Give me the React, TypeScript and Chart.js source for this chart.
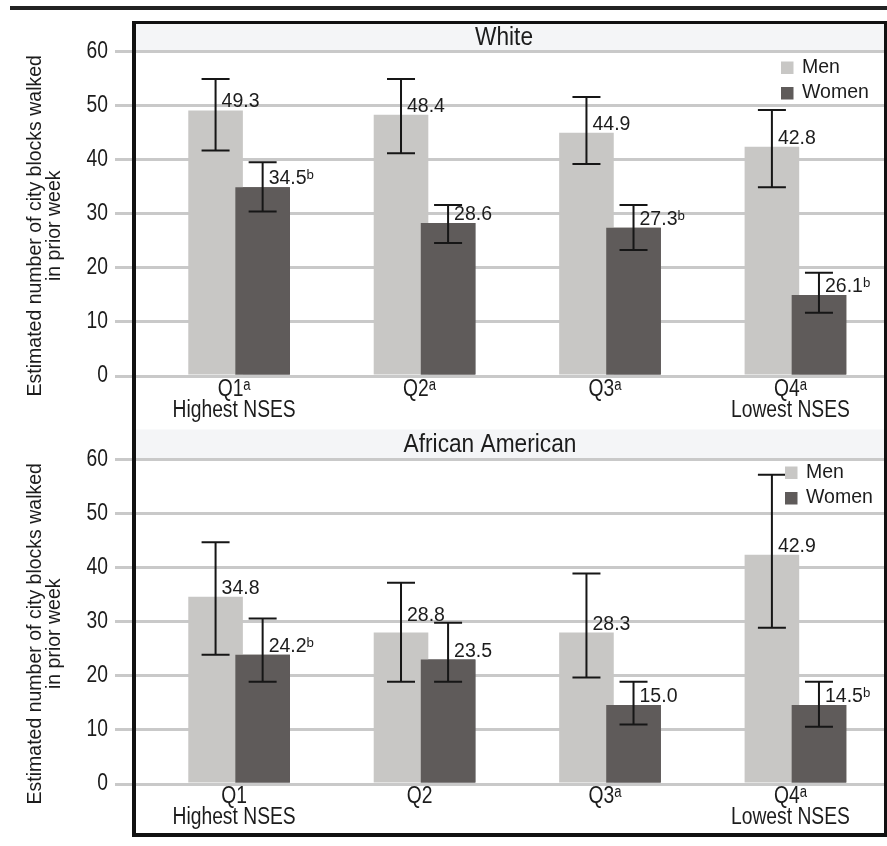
import React, { useEffect, useRef } from 'react';
import { Chart, registerables } from 'chart.js';

Chart.register(...registerables);

// ---------- data ----------
const seriesNames = ['Men', 'Women'];
const yTickValues = [0, 10, 20, 30, 40, 50, 60];

const whiteTitle = 'White';
const whiteCategories = [['Q1ᵃ', 'Highest NSES'], ['Q2ᵃ'], ['Q3ᵃ'], ['Q4ᵃ', 'Lowest NSES']];
const whiteMen = [49.1, 48.3, 45.0, 42.4];
const whiteMenLow = [41.7, 41.2, 39.2, 34.9];
const whiteMenHigh = [54.9, 54.9, 51.6, 49.2];
const whiteMenLabels = ['49.3', '48.4', '44.9', '42.8'];
const whiteWomen = [34.9, 28.3, 27.4, 15.0];
const whiteWomenLow = [30.4, 24.6, 23.3, 11.7];
const whiteWomenHigh = [39.5, 31.6, 31.6, 19.1];
const whiteWomenLabels = ['34.5ᵇ', '28.6', '27.3ᵇ', '26.1ᵇ'];

const aaTitle = 'African American';
const aaCategories = [['Q1', 'Highest NSES'], ['Q2'], ['Q3ᵃ'], ['Q4ᵃ', 'Lowest NSES']];
const aaMen = [34.6, 28.0, 28.0, 42.4];
const aaMenLow = [23.9, 18.9, 19.7, 28.9];
const aaMenHigh = [44.7, 37.2, 38.9, 57.2];
const aaMenLabels = ['34.8', '28.8', '28.3', '42.9'];
const aaWomen = [23.9, 23.0, 14.6, 14.6];
const aaWomenLow = [18.9, 18.9, 11.0, 10.6];
const aaWomenHigh = [30.6, 29.8, 18.9, 18.9];
const aaWomenLabels = ['24.2ᵇ', '23.5', '15.0', '14.5ᵇ'];

const yTitleLines = ['Estimated number of city blocks walked', 'in prior week'];

// ---------- styles ----------
const FAMILY = '"Liberation Sans", Arial, Helvetica, sans-serif';
const TEXT = '#1c1c1c';
const MEN_COLOR = '#c8c7c5';
const WOMEN_COLOR = '#5f5b5a';
const GRID = '#c9c9c9';
const BAND = '#f4f5f7';

type Panel = {
  title: string;
  categories: string[][];
  men: number[]; menLow: number[]; menHigh: number[]; menLabels: string[];
  women: number[]; womenLow: number[]; womenHigh: number[]; womenLabels: string[];
  titleX: number; titleDy: number; legendX: number; legendDy: number;
  padTop: number; padBottom: number; tickDy: number; menLabelLift: number[];
};

const panels: Panel[] = [
  {
    title: whiteTitle, categories: whiteCategories,
    men: whiteMen, menLow: whiteMenLow, menHigh: whiteMenHigh, menLabels: whiteMenLabels,
    women: whiteWomen, womenLow: whiteWomenLow, womenHigh: whiteWomenHigh, womenLabels: whiteWomenLabels,
    titleX: 504, titleDy: -14, legendX: 781, legendDy: 10, padTop: 51.5, padBottom: 5, tickDy: 13.5,
    menLabelLift: [0, 0, 0, 0],
  },
  {
    title: aaTitle, categories: aaCategories,
    men: aaMen, menLow: aaMenLow, menHigh: aaMenHigh, menLabels: aaMenLabels,
    women: aaWomen, womenLow: aaWomenLow, womenHigh: aaWomenHigh, womenLabels: aaWomenLabels,
    titleX: 490, titleDy: -15, legendX: 785, legendDy: 7, padTop: 34.5, padBottom: 18, tickDy: 12.5,
    menLabelLift: [0, 9, 0, 0],
  },
];

const font = (size: number) => `${size}px ${FAMILY}`;

function txt(
  ctx: CanvasRenderingContext2D, s: string, x: number, y: number, size: number, sx: number,
  align: CanvasTextAlign, baseline: CanvasTextBaseline, rot = 0,
) {
  ctx.save();
  ctx.translate(x, y);
  if (rot) ctx.rotate(rot);
  ctx.scale(sx, 1);
  ctx.font = font(size);
  ctx.textAlign = align;
  ctx.textBaseline = baseline;
  ctx.fillStyle = TEXT;
  ctx.fillText(s, 0, 0);
  ctx.restore();
}

function makePlugin(p: Panel) {
  return {
    id: 'panelDecor',
    beforeDraw(chart: any) {
      const { ctx, chartArea: ca } = chart;
      ctx.save();
      ctx.fillStyle = BAND;
      ctx.fillRect(ca.left, ca.top - 30, ca.right - ca.left, 30);
      ctx.restore();
    },
    afterDatasetsDraw(chart: any) {
      const { ctx, chartArea: ca } = chart;
      const y = chart.scales.y;
      const x = chart.scales.x;
      ctx.save();
      // women bars over men bars
      chart.getDatasetMeta(1).data.forEach((el: any) => el.draw(ctx));
      // error bars
      const sets = [
        { low: p.menLow, high: p.menHigh, labels: p.menLabels, lift: p.menLabelLift },
        { low: p.womenLow, high: p.womenHigh, labels: p.womenLabels, lift: [0, 0, 0, 0] },
      ];
      sets.forEach((s, k) => {
        chart.getDatasetMeta(k).data.forEach((el: any, i: number) => {
          const px = el.x;
          const yl = y.getPixelForValue(s.low[i]);
          const yh = y.getPixelForValue(s.high[i]);
          ctx.strokeStyle = '#161616';
          ctx.lineWidth = 2;
          ctx.beginPath();
          ctx.moveTo(px, yh); ctx.lineTo(px, yl);
          ctx.moveTo(px - 14, yh); ctx.lineTo(px + 14, yh);
          ctx.moveTo(px - 14, yl); ctx.lineTo(px + 14, yl);
          ctx.stroke();
        });
      });
      // value labels
      sets.forEach((s, k) => {
        chart.getDatasetMeta(k).data.forEach((el: any, i: number) => {
          txt(ctx, s.labels[i], el.x + 6, el.y - 3 - s.lift[i], 19.5, 1, 'left', 'alphabetic');
        });
      });
      // y tick labels
      yTickValues.forEach((v) => {
        txt(ctx, String(v), ca.left - 28, y.getPixelForValue(v), 23.5, 0.82, 'right', 'middle');
      });
      // x tick labels
      p.categories.forEach((lines, i) => {
        const cx = x.getPixelForValue(i) - 5;
        lines.forEach((l, j) => {
          txt(ctx, l, cx, ca.bottom + p.tickDy + j * 21, 23.5, 0.82, 'center', 'middle');
        });
      });
      // legend
      [MEN_COLOR, WOMEN_COLOR].forEach((c, k) => {
        const y0 = ca.top + p.legendDy + k * 25.5;
        ctx.fillStyle = c;
        ctx.fillRect(p.legendX, y0, 12.5, 12.5);
        txt(ctx, seriesNames[k], p.legendX + 21, y0 + 6, 19.5, 1, 'left', 'middle');
      });
      // panel title
      txt(ctx, p.title, p.titleX, ca.top + p.titleDy, 25.5, 0.89, 'center', 'middle');
      // y-axis title
      const cy = (ca.top + ca.bottom) / 2 + 12;
      [35.5, 55].forEach((lx, k) => {
        txt(ctx, yTitleLines[k], lx, cy, 19.5, 1, 'center', 'middle', -Math.PI / 2);
      });
      ctx.restore();
    },
  };
}

function makeChart(canvas: HTMLCanvasElement, p: Panel) {
  return new Chart(canvas, {
    type: 'bar',
    data: {
      datasets: [
        {
          label: seriesNames[0],
          data: p.men.map((v, i) => ({ x: i, y: v })),
          backgroundColor: MEN_COLOR,
          borderWidth: 0,
        },
        {
          label: seriesNames[1],
          data: p.women.map((v, i) => ({ x: i, y: v })),
          backgroundColor: WOMEN_COLOR,
          borderWidth: 0,
        },
      ],
    } as any,
    options: {
      animation: false,
      responsive: true,
      maintainAspectRatio: false,
      categoryPercentage: 0.5076,
      barPercentage: 1.16,
      layout: { padding: { top: p.padTop, bottom: p.padBottom, left: 0, right: 2 } },
      plugins: {
        legend: { display: false },
        tooltip: { enabled: false },
        title: { display: false },
      },
      scales: {
        x: {
          type: 'linear',
          min: -0.556,
          max: 3.483,
          offset: false,
          grid: { display: false, drawTicks: false },
          border: { display: false },
          afterBuildTicks: (s: any) => {
            s.ticks = p.categories.map((_, i) => ({ value: i }));
          },
          afterFit: (s: any) => {
            s.height = 44;
          },
          ticks: { display: false, autoSkip: false, maxRotation: 0 },
        },
        y: {
          min: 0,
          max: 60,
          afterBuildTicks: (s: any) => {
            s.ticks = yTickValues.map((v) => ({ value: v }));
          },
          afterFit: (s: any) => {
            s.width = 136;
          },
          grid: { color: GRID, lineWidth: 3, tickLength: 21 },
          border: { display: false },
          ticks: { display: false },
        },
      },
    } as any,
    plugins: [makePlugin(p)],
  });
}

export default function App() {
  const topRef = useRef<HTMLCanvasElement>(null);
  const botRef = useRef<HTMLCanvasElement>(null);

  useEffect(() => {
    const charts: Chart[] = [];
    if (topRef.current) charts.push(makeChart(topRef.current, panels[0]));
    if (botRef.current) charts.push(makeChart(botRef.current, panels[1]));
    return () => charts.forEach((c) => c.destroy());
  }, []);

  return (
    <div style={{ position: 'absolute', left: 0, top: 0, width: 887, height: 846, background: '#fff', overflow: 'hidden' }}>
      <div style={{ position: 'absolute', left: 0, top: 0, width: 887, height: 425 }}>
        <canvas ref={topRef} />
      </div>
      <div style={{ position: 'absolute', left: 0, top: 425, width: 887, height: 421 }}>
        <canvas ref={botRef} />
      </div>
      <div style={{ position: 'absolute', left: 10, top: 6, width: 877, height: 4, background: '#222' }} />
      <div
        style={{
          position: 'absolute', left: 132, top: 21, width: 755, height: 816,
          boxSizing: 'border-box', borderStyle: 'solid', borderColor: '#111',
          borderWidth: '3px 3px 4px 4px', pointerEvents: 'none',
        }}
      />
    </div>
  );
}
